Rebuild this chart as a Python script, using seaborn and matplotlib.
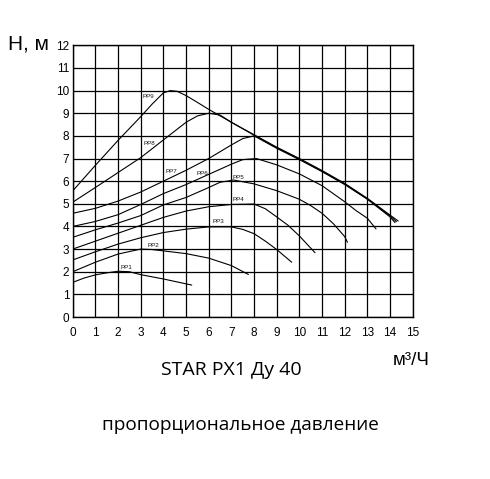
import matplotlib
matplotlib.use("Agg")
import matplotlib.pyplot as plt
import seaborn as sns
import pandas as pd

# pump curves: flow Q (m3/h) -> head H (m)
pp1_q = [0, 0.5, 1, 1.5, 2, 2.5, 3, 4, 5.25]
pp1_h = [1.53, 1.72, 1.86, 1.95, 2.02, 2.0, 1.87, 1.68, 1.41]

pp2_q = [0, 1, 2, 3, 3.5, 4, 5, 6, 7, 7.75]
pp2_h = [2.0, 2.42, 2.78, 3.0, 2.98, 2.92, 2.8, 2.6, 2.27, 1.88]

pp3_q = [0, 1, 2, 3, 4, 5, 6, 7, 7.5, 8, 8.5, 9, 9.66]
pp3_h = [2.52, 2.88, 3.22, 3.5, 3.73, 3.88, 3.98, 3.98, 3.87, 3.68, 3.35, 2.98, 2.42]

pp4_q = [0, 1, 2, 3, 4, 5, 6, 7, 8, 8.5, 9, 9.5, 10, 10.69]
pp4_h = [3.0, 3.35, 3.7, 4.05, 4.4, 4.68, 4.87, 4.97, 4.99, 4.78, 4.42, 4.05, 3.58, 2.84]

pp5_q = [0, 1, 2, 3, 4, 5, 6, 6.5, 7.1, 8, 9, 10, 10.5, 11, 11.5, 12, 12.12]
pp5_h = [3.52, 3.85, 4.15, 4.48, 4.95, 5.28, 5.72, 5.95, 6.05, 5.88, 5.58, 5.2, 4.92, 4.58, 4.12, 3.55, 3.3]

pp6_q = [0, 1, 2, 3, 4, 5, 6, 7, 7.5, 8.1, 9, 10, 11, 12, 12.5, 13, 13.38]
pp6_h = [4.0, 4.22, 4.52, 4.97, 5.45, 5.85, 6.3, 6.75, 6.95, 7.0, 6.72, 6.32, 5.8, 5.09, 4.7, 4.36, 3.89]

pp7_q = [0, 1, 2, 3, 4, 5, 6, 7, 7.5, 8, 9, 10, 11, 12, 13, 14, 14.22]
pp7_h = [4.58, 4.8, 5.12, 5.52, 6.0, 6.48, 7.0, 7.6, 7.88, 8.0, 7.45, 6.95, 6.42, 5.85, 5.2, 4.42, 4.17]

pp8_q = [0, 1, 2, 3, 4, 5, 5.5, 6, 6.5, 7, 8, 9, 10, 11, 12, 13, 14, 14.28]
pp8_h = [5.07, 5.72, 6.38, 7.04, 7.82, 8.6, 8.88, 9.0, 8.92, 8.6, 8.03, 7.48, 6.98, 6.44, 5.87, 5.22, 4.47, 4.21]

pp9_q = [0, 1, 2, 3, 3.5, 4, 4.3, 4.6, 5, 5.5, 6, 7, 8, 9, 10, 11, 12, 13, 14, 14.36]
pp9_h = [5.57, 6.7, 7.8, 8.85, 9.4, 9.9, 10.0, 9.97, 9.78, 9.48, 9.17, 8.6, 8.05, 7.5, 7.0, 6.47, 5.9, 5.24, 4.5, 4.24]

curve_names = ["PP1", "PP2", "PP3", "PP4", "PP5", "PP6", "PP7", "PP8", "PP9"]
curve_q = [pp1_q, pp2_q, pp3_q, pp4_q, pp5_q, pp6_q, pp7_q, pp8_q, pp9_q]
curve_h = [pp1_h, pp2_h, pp3_h, pp4_h, pp5_h, pp6_h, pp7_h, pp8_h, pp9_h]

# where the little curve names sit
label_q = [2.09, 3.31, 6.15, 7.04, 7.04, 5.44, 4.1, 3.12, 3.09]
label_h = [2.19, 3.15, 4.21, 5.2, 6.17, 6.35, 6.42, 7.67, 9.73]

x_ticks = list(range(0, 16))
y_ticks = list(range(0, 13))

rows = []
for name, qs, hs in zip(curve_names, curve_q, curve_h):
    for q, h in zip(qs, hs):
        rows.append({"curve": name, "Q": q, "H": h})
df = pd.DataFrame(rows)

sns.set_style("white")
plt.rcParams["font.family"] = ["Liberation Sans", "DejaVu Sans"]
plt.rcParams["text.color"] = "black"
plt.rcParams["xtick.color"] = "black"
plt.rcParams["ytick.color"] = "black"

fig = plt.figure(figsize=(4.9, 4.79), dpi=100)
ax = fig.add_axes([0.1484, 0.3382, 0.6939, 0.5672])

sns.lineplot(data=df, x="Q", y="H", units="curve", estimator=None, sort=False,
             color="black", lw=0.8, ax=ax, legend=False)

for name, q, h in zip(curve_names, label_q, label_h):
    ax.text(q, h, name, fontsize=4.5, ha="left", va="center", color="#111111")

ax.set_xlim(0, 15)
ax.set_ylim(0, 12)
ax.set_xticks(x_ticks)
ax.set_yticks(y_ticks)
ax.grid(True, color="black", lw=0.9)
ax.set_axisbelow(True)
for s in ax.spines.values():
    s.set_color("black")
    s.set_linewidth(1.0)
ax.tick_params(axis="x", length=0, pad=7, labelsize=8.5, labelcolor="black")
ax.tick_params(axis="y", length=0, pad=2.5, labelsize=8.5, labelcolor="black")
ax.set_xlabel("")
ax.set_ylabel("")

fig.text(0.016, 1 - 49 / 479, "H, м", fontsize=15, va="baseline", ha="left")
fig.text(393 / 490, 1 - 365 / 479, "м³/Ч", fontsize=13.5, va="baseline", ha="left")
fig.text(231 / 490, 1 - 375 / 479, "STAR PX1 Ду 40", fontsize=14,
         family=["Open Sans", "DejaVu Sans"], va="baseline", ha="center")
fig.text(240 / 490, 1 - 430 / 479, "пропорциональное давление", fontsize=13.7,
         family=["Open Sans", "DejaVu Sans"], va="baseline", ha="center")

fig.savefig("out.png", dpi=100, facecolor="white")
